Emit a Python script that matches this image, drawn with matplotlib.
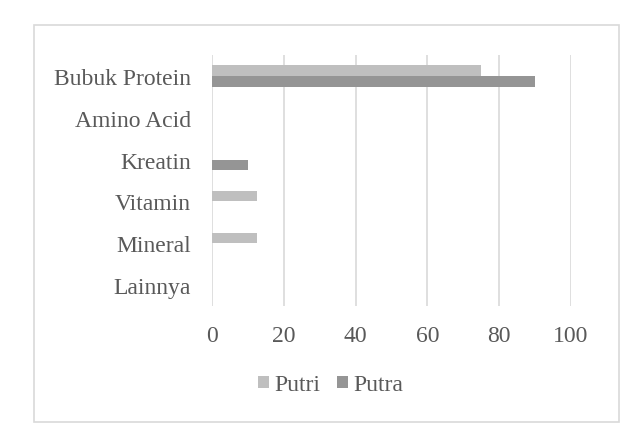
import numpy as np
import matplotlib
matplotlib.use('Agg')
import matplotlib.pyplot as plt
from matplotlib.patches import Rectangle

categories = ['Bubuk Protein', 'Amino Acid', 'Kreatin', 'Vitamin', 'Mineral', 'Lainnya']
putri = [75, 0, 0, 12.5, 12.5, 0]
putra = [90, 0, 10, 0, 0, 0]
xticks = [0, 20, 40, 60, 80, 100]

plt.rcParams['font.family'] = ['Liberation Serif', 'DejaVu Serif']
text_color = '#595959'
c_putri = '#BFBFBF'
c_putra = '#959595'

fig = plt.figure(figsize=(6.44, 4.39), dpi=100)
ax = fig.add_axes([212 / 644, 1 - 307 / 439, (571 - 212) / 644, (307 - 56) / 439])

y = np.arange(len(categories))
h = 0.256
ax.barh(y - h / 2, putri, height=h, color=c_putri, label='Putri')
ax.barh(y + h / 2, putra, height=h, color=c_putra, label='Putra')

ax.set_ylim(len(categories) - 0.5, -0.5)
ax.set_xlim(0, 100)
ax.set_yticks(y)
ax.set_yticklabels(categories)
ax.set_xticks(xticks)
ax.tick_params(axis='y', length=0, pad=15, labelsize=17, labelcolor=text_color)
ax.tick_params(axis='x', length=0, pad=14, labelsize=17, labelcolor=text_color)
ax.grid(axis='x', color='#D9D9D9', linewidth=1.2)
ax.set_axisbelow(True)
for s in ax.spines.values():
    s.set_visible(False)

leg = fig.legend(loc='center', bbox_to_anchor=(331 / 644, 1 - 386 / 439), ncol=2,
                 frameon=False, fontsize=17, handlelength=0.45, handleheight=0.45,
                 handletextpad=0.25, columnspacing=0.7, labelcolor=text_color)

fig.patches.append(Rectangle((34 / 644, 1 - 423 / 439), (619 - 34) / 644, (423 - 26) / 439,
                             transform=fig.transFigure, fill=False,
                             edgecolor='#D9D9D9', linewidth=1.2))

fig.savefig('out.png', dpi=100, facecolor='white')
